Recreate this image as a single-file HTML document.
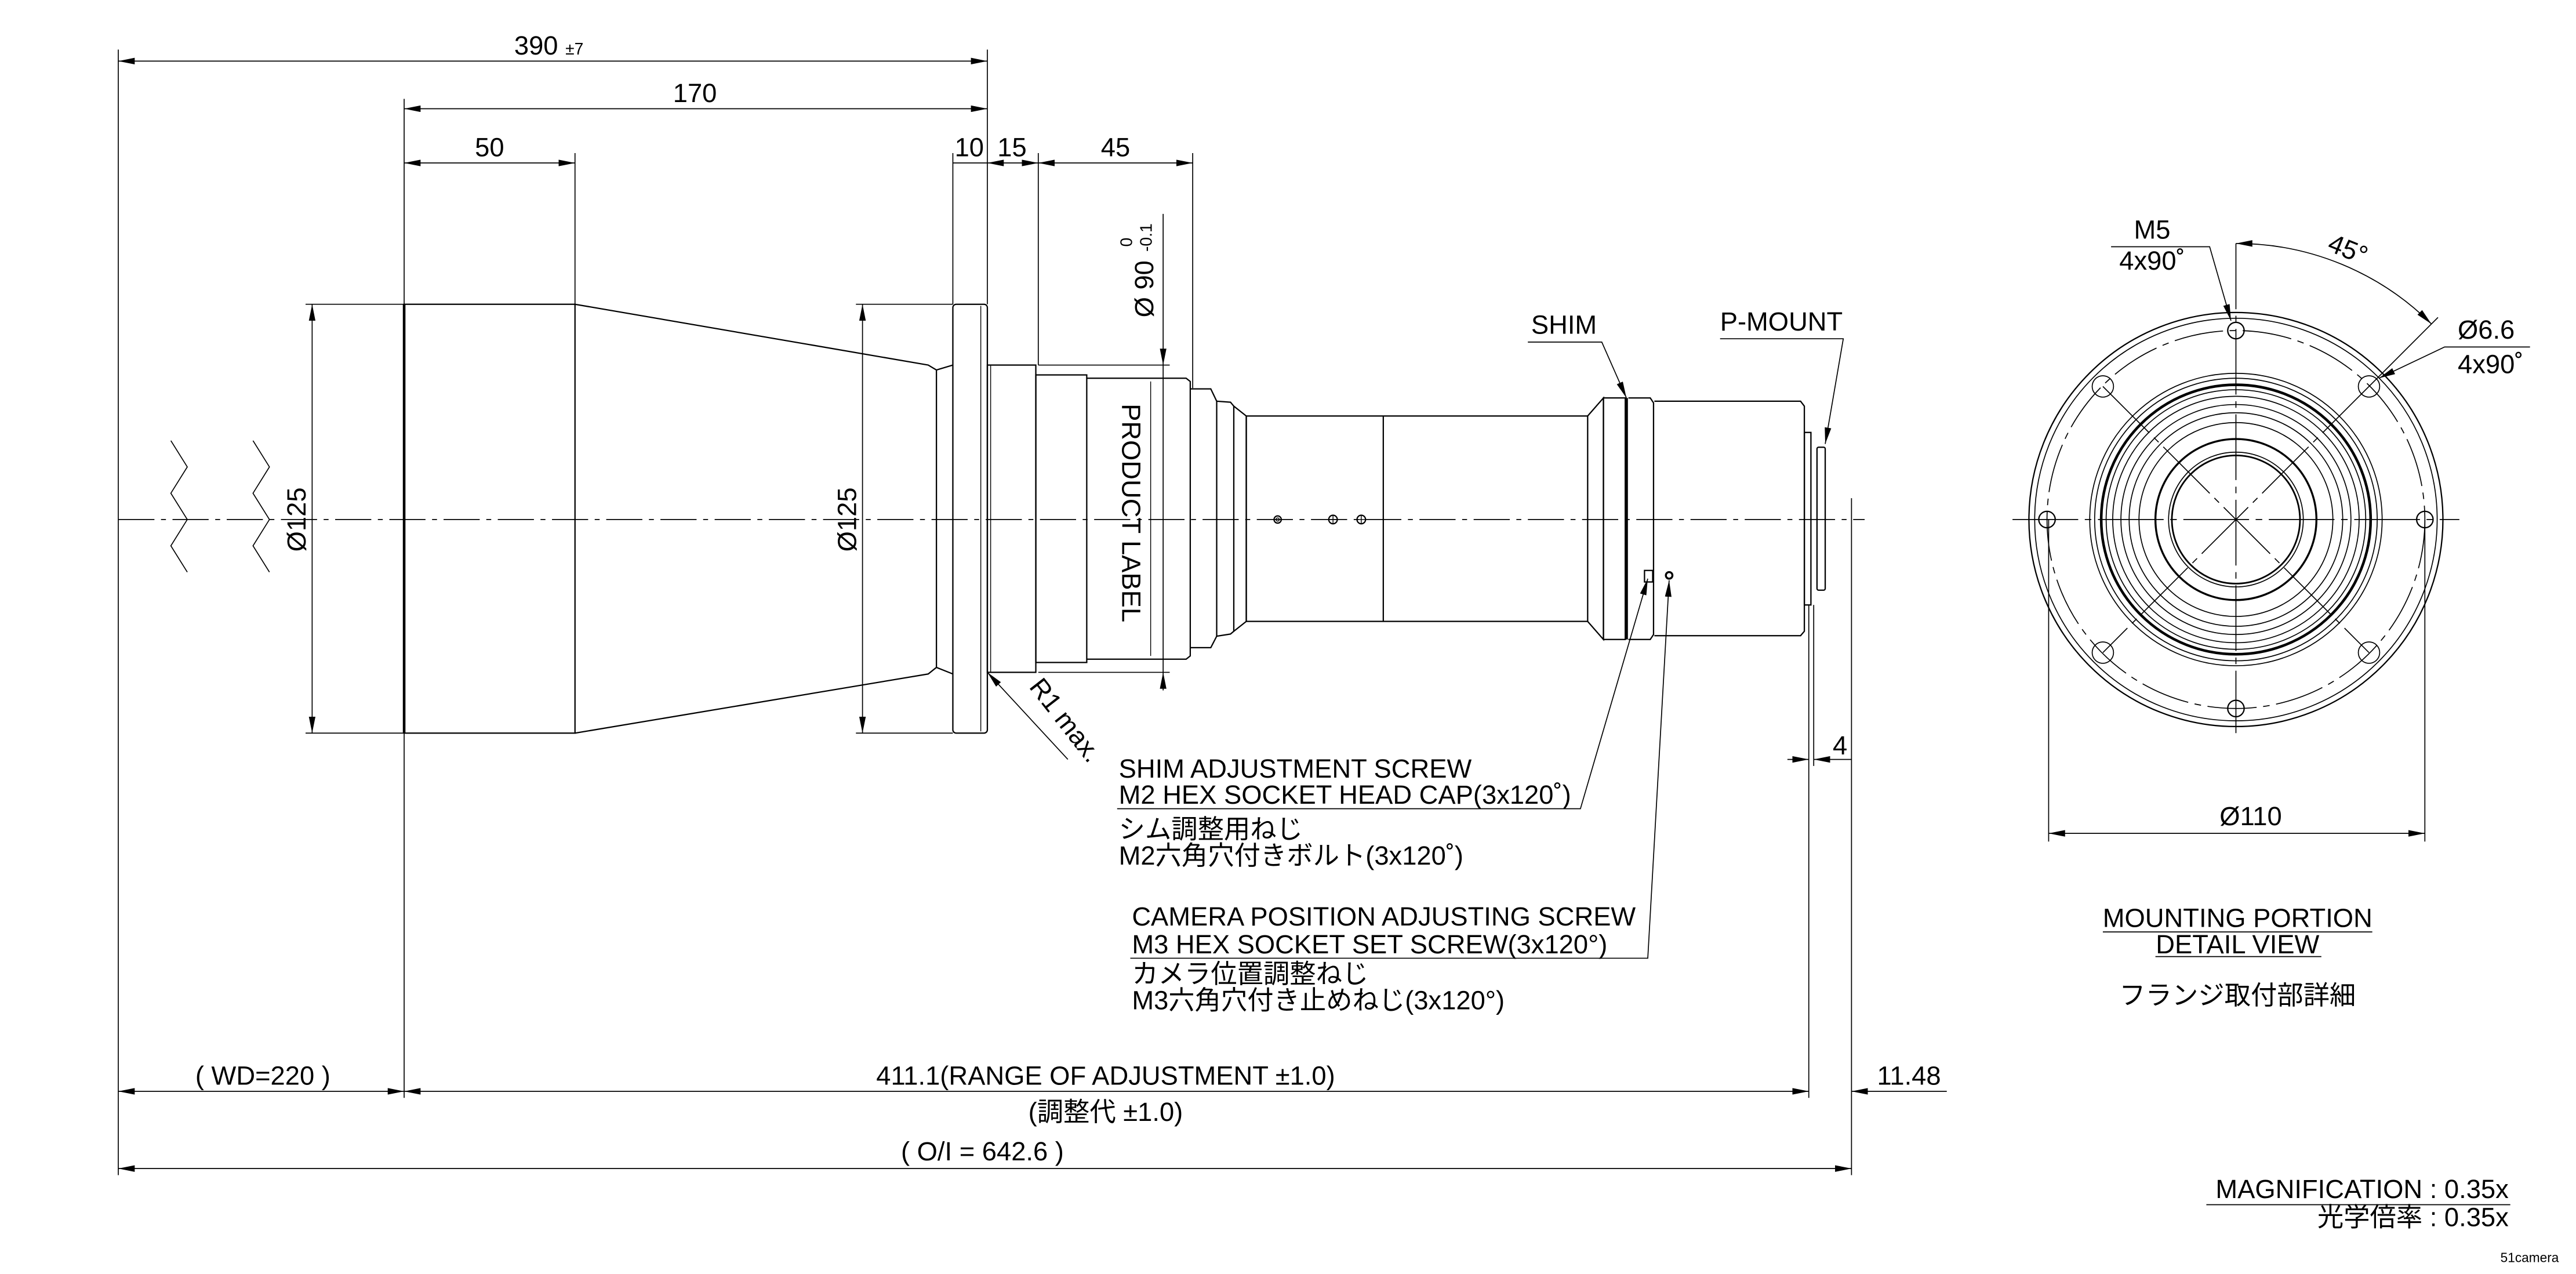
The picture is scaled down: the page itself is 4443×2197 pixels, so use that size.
<!DOCTYPE html>
<html><head><meta charset="utf-8"><style>
html,body{margin:0;padding:0;background:#fff}
svg{display:block}
text{font-family:"Liberation Sans","Noto Sans CJK JP",sans-serif;fill:#000}
</style></head><body>
<svg width="4443" height="2197" viewBox="0 0 1568 775" xmlns="http://www.w3.org/2000/svg">
<defs>
<marker id="a" viewBox="0 0 10 4" refX="10" refY="2" markerWidth="10" markerHeight="4" markerUnits="userSpaceOnUse" orient="auto-start-reverse"><path d="M0,0L10,2L0,4z" fill="#000"/></marker>
</defs>
<g fill="none" stroke="#000" stroke-width="0.8">
<line x1="72" y1="316" x2="1135" y2="316" stroke-dasharray="22,4,3,4" stroke-width="0.6"/>
<path d="M104,268 L114,284 L104,300 L114,316 L104,332 L114,348" stroke-width="0.6"/>
<path d="M154,268 L164,284 L154,300 L164,316 L154,332 L164,348" stroke-width="0.6"/>
<line x1="72" y1="30" x2="72" y2="715" stroke-width="0.6"/>
<line x1="601" y1="30" x2="601" y2="185" stroke-width="0.6"/>
<line x1="246" y1="60" x2="246" y2="185" stroke-width="0.6"/>
<line x1="246" y1="446" x2="246" y2="668" stroke-width="0.6"/>
<line x1="350" y1="93" x2="350" y2="185" stroke-width="0.6"/>
<line x1="580" y1="93" x2="580" y2="185" stroke-width="0.6"/>
<line x1="632" y1="93" x2="632" y2="222" stroke-width="0.6"/>
<line x1="726" y1="93" x2="726" y2="236" stroke-width="0.6"/>
<line x1="186" y1="185" x2="246" y2="185" stroke-width="0.6"/>
<line x1="186" y1="446" x2="246" y2="446" stroke-width="0.6"/>
<line x1="521" y1="185" x2="580" y2="185" stroke-width="0.6"/>
<line x1="521" y1="446" x2="580" y2="446" stroke-width="0.6"/>
<line x1="632" y1="222" x2="712" y2="222" stroke-width="0.6"/>
<line x1="632" y1="409" x2="712" y2="409" stroke-width="0.6"/>
<line x1="1101" y1="368" x2="1101" y2="668" stroke-width="0.6"/>
<line x1="1104" y1="368" x2="1104" y2="466" stroke-width="0.6"/>
<line x1="1127" y1="303" x2="1127" y2="715" stroke-width="0.6"/>
<line x1="72" y1="37" x2="601" y2="37" marker-start="url(#a)" marker-end="url(#a)" stroke-width="0.6"/>
<line x1="246" y1="66" x2="601" y2="66" marker-start="url(#a)" marker-end="url(#a)" stroke-width="0.6"/>
<line x1="246" y1="99" x2="350" y2="99" marker-start="url(#a)" marker-end="url(#a)" stroke-width="0.6"/>
<line x1="580" y1="99" x2="601" y2="99" stroke-width="0.6"/>
<line x1="601" y1="99" x2="632" y2="99" marker-start="url(#a)" marker-end="url(#a)" stroke-width="0.6"/>
<line x1="632" y1="99" x2="726" y2="99" marker-start="url(#a)" marker-end="url(#a)" stroke-width="0.6"/>
<line x1="190" y1="185" x2="190" y2="446" marker-start="url(#a)" marker-end="url(#a)" stroke-width="0.6"/>
<line x1="525" y1="185" x2="525" y2="446" marker-start="url(#a)" marker-end="url(#a)" stroke-width="0.6"/>
<line x1="708" y1="130" x2="708" y2="222" marker-end="url(#a)" stroke-width="0.6"/>
<line x1="708" y1="420" x2="708" y2="409" marker-end="url(#a)" stroke-width="0.6"/>
<line x1="708" y1="222" x2="708" y2="409" stroke-width="0.6"/>
<line x1="72" y1="664" x2="246" y2="664" marker-start="url(#a)" marker-end="url(#a)" stroke-width="0.6"/>
<line x1="246" y1="664" x2="1101" y2="664" marker-start="url(#a)" marker-end="url(#a)" stroke-width="0.6"/>
<line x1="1185" y1="664" x2="1127" y2="664" marker-end="url(#a)" stroke-width="0.6"/>
<line x1="72" y1="711" x2="1127" y2="711" marker-start="url(#a)" marker-end="url(#a)" stroke-width="0.6"/>
<line x1="1088" y1="462" x2="1101" y2="462" marker-end="url(#a)" stroke-width="0.6"/>
<line x1="1127" y1="462" x2="1104" y2="462" marker-end="url(#a)" stroke-width="0.6"/>
<rect x="246" y="185" width="104" height="261"/>
<line x1="246" y1="185" x2="246" y2="446" stroke-width="1.6"/>
<path d="M350,185 L565,222 L570,225 L570,406 L565,410 L350,446"/>
<path d="M570,225 L580,222 M570,406 L580,410"/>
<rect x="580" y="185" width="21" height="261" rx="2"/>
<line x1="597" y1="186" x2="597" y2="445" stroke-width="0.5"/>
<rect x="601" y="222" width="29.5" height="187"/>
<line x1="603" y1="222" x2="603" y2="409" stroke-width="0.5"/>
<rect x="630.5" y="228" width="31" height="175"/>
<path d="M661.5,230 L722,230 L724.5,232 L724.5,399 L722,401 L661.5,401"/>
<line x1="700.4" y1="232" x2="700.4" y2="399" stroke-width="0.5"/>
<path d="M724.5,236.5 L737,236.5 L740.6,244 L740.6,387 L737,394 L724.5,394"/>
<path d="M740.6,244 L749,244.6 L751,247 L751,384 L749,385.7 L740.6,387"/>
<path d="M751,247 L758.6,253 L758.6,378 L751,384"/>
<rect x="758.6" y="253" width="207.8" height="125"/>
<line x1="842" y1="253" x2="842" y2="378"/>
<path d="M966.4,253 L976,242 L976,389 L966.4,378"/>
<rect x="976" y="242" width="13.3" height="147"/>
<line x1="990" y1="242" x2="990" y2="389" stroke-width="1.8"/>
<path d="M991.2,242 L1004.5,242 L1006.5,245 L1006.5,386 L1004.5,389 L991.2,389"/>
<path d="M1007,244 L1096,244 L1098.3,247 L1098.3,384 L1096,386.7 L1007,386.7"/>
<rect x="1098.3" y="263" width="4" height="105"/>
<rect x="1106" y="272" width="5" height="87" rx="1"/>
<circle cx="777.7" cy="316" r="2.2"/><circle cx="777.7" cy="316" r="1" stroke-width="0.5"/>
<circle cx="811.4" cy="316" r="2.6"/><line x1="808.8" y1="316" x2="814" y2="316" stroke-width="0.5"/><line x1="811.4" y1="313.4" x2="811.4" y2="318.6" stroke-width="0.5"/>
<circle cx="828.6" cy="316" r="2.6"/><line x1="826" y1="316" x2="831.2" y2="316" stroke-width="0.5"/><line x1="828.6" y1="313.4" x2="828.6" y2="318.6" stroke-width="0.5"/>
<rect x="1001" y="347" width="5" height="7"/>
<circle cx="1016" cy="350" r="2" stroke-width="1.2"/>
<path d="M601,409 L650,462" marker-start="url(#a)" stroke-width="0.6"/>
<path d="M930,208 L975,208 L990,242" marker-end="url(#a)" stroke-width="0.6"/>
<path d="M1047,206 L1122,206 L1111,270" marker-end="url(#a)" stroke-width="0.6"/>
<path d="M680,492 L962,492 L1003,352" marker-end="url(#a)" stroke-width="0.6"/>
<path d="M688,583 L1003,583 L1016,353" marker-end="url(#a)" stroke-width="0.6"/>
<circle cx="1361" cy="316" r="126"/>
<circle cx="1361" cy="316" r="122.5" stroke-width="0.6"/>
<circle cx="1361" cy="316" r="115" stroke-dasharray="30,4,4,4" stroke-width="0.6"/>
<circle cx="1361" cy="316" r="89" stroke-width="0.6"/>
<circle cx="1361" cy="316" r="86" stroke-width="0.6"/>
<circle cx="1361" cy="316" r="82" stroke-width="1.6"/>
<circle cx="1361" cy="316" r="79" stroke-width="0.6"/>
<circle cx="1361" cy="316" r="75" stroke-width="0.6"/>
<circle cx="1361" cy="316" r="70" stroke-width="0.6"/>
<circle cx="1361" cy="316" r="65" stroke-width="0.6"/>
<circle cx="1361" cy="316" r="59" stroke-width="0.6"/>
<circle cx="1361" cy="316" r="49" stroke-width="1.2"/>
<circle cx="1361" cy="316" r="41" stroke-width="0.6"/>
<circle cx="1361" cy="316" r="39" stroke-width="1"/>
<line x1="1361" y1="148" x2="1361" y2="446" stroke-dasharray="40,4,4,4" stroke-width="0.6"/>
<line x1="1225" y1="316" x2="1497" y2="316" stroke-dasharray="40,4,4,4" stroke-width="0.6"/>
<line x1="1280" y1="235" x2="1442" y2="397" stroke-dasharray="40,4,4,4" stroke-width="0.6"/>
<line x1="1442" y1="235" x2="1280" y2="397" stroke-dasharray="40,4,4,4" stroke-width="0.6"/>
<circle cx="1361" cy="201" r="5"/><circle cx="1361" cy="431" r="5"/>
<circle cx="1246" cy="316" r="5"/><circle cx="1476" cy="316" r="5"/>
<circle cx="1280" cy="235" r="6.5" stroke-width="0.6"/><circle cx="1442" cy="235" r="6.5" stroke-width="0.6"/>
<circle cx="1280" cy="397" r="6.5" stroke-width="0.6"/><circle cx="1442" cy="397" r="6.5" stroke-width="0.6"/>
<line x1="1247" y1="316" x2="1247" y2="512" stroke-width="0.6"/>
<line x1="1476" y1="316" x2="1476" y2="512" stroke-width="0.6"/>
<line x1="1247" y1="507" x2="1476" y2="507" marker-start="url(#a)" marker-end="url(#a)" stroke-width="0.6"/>
<path d="M1285,150 L1345,150 L1358,195" marker-end="url(#a)" stroke-width="0.6"/>
<path d="M1361,148 A168,168 0 0 1 1480,197" marker-start="url(#a)" marker-end="url(#a)" stroke-width="0.6"/>
<line x1="1442" y1="235" x2="1484" y2="193" stroke-width="0.6"/>
<path d="M1540,211 L1488,211 L1448,230" marker-end="url(#a)" stroke-width="0.6"/>
<line x1="1280" y1="567" x2="1444" y2="567" stroke-width="0.6"/>
<line x1="1312" y1="582" x2="1413" y2="582" stroke-width="0.6"/>
<line x1="1343" y1="733" x2="1528" y2="733" stroke-width="0.6"/>
</g>
<g font-size="16">
<text x="313" y="33">390 <tspan font-size="10">±7</tspan></text>
<text x="423" y="62" text-anchor="middle">170</text>
<text x="298" y="95" text-anchor="middle">50</text>
<text x="590" y="95" text-anchor="middle">10</text>
<text x="616" y="95" text-anchor="middle">15</text>
<text x="679" y="95" text-anchor="middle">45</text>
<text transform="translate(186,316) rotate(-90)" text-anchor="middle">Ø125</text>
<text transform="translate(521,316) rotate(-90)" text-anchor="middle">Ø125</text>
<text transform="translate(702,193) rotate(-90)">Ø 90</text>
<text transform="translate(689,150) rotate(-90)" font-size="10">0</text>
<text transform="translate(701,153) rotate(-90)" font-size="10">-0.1</text>
<text transform="translate(683,312) rotate(90)" text-anchor="middle" font-size="16">PRODUCT LABEL</text>
<text transform="translate(626,418) rotate(52)">R1 max.</text>
<text x="932" y="203">SHIM</text>
<text x="1047" y="201">P-MOUNT</text>
<text x="1120" y="459" text-anchor="middle">4</text>
<text x="681" y="473">SHIM ADJUSTMENT SCREW</text>
<text x="681" y="489">M2 HEX SOCKET HEAD CAP(3x120˚)</text>
<text x="681" y="510">シム調整用ねじ</text>
<text x="681" y="526">M2六角穴付きボルト(3x120˚)</text>
<text x="689" y="563">CAMERA POSITION ADJUSTING SCREW</text>
<text x="689" y="580">M3 HEX SOCKET SET SCREW(3x120°)</text>
<text x="689" y="598">カメラ位置調整ねじ</text>
<text x="689" y="614">M3六角穴付き止めねじ(3x120°)</text>
<text x="160" y="660" text-anchor="middle">( WD=220 )</text>
<text x="673" y="660" text-anchor="middle">411.1(RANGE OF ADJUSTMENT ±1.0)</text>
<text x="1162" y="660" text-anchor="middle">11.48</text>
<text x="673" y="682" text-anchor="middle">(調整代 ±1.0)</text>
<text x="598" y="706" text-anchor="middle">( O/I = 642.6 )</text>
<text x="1310" y="145" text-anchor="middle">M5</text>
<text x="1310" y="164" text-anchor="middle">4x90˚</text>
<text transform="translate(1416,152) rotate(22)">45°</text>
<text x="1496" y="206">Ø6.6</text>
<text x="1496" y="227">4x90˚</text>
<text x="1370" y="502" text-anchor="middle">Ø110</text>
<text x="1362" y="564" text-anchor="middle">MOUNTING PORTION</text>
<text x="1362" y="580" text-anchor="middle">DETAIL VIEW</text>
<text x="1362" y="611" text-anchor="middle">フランジ取付部詳細</text>
<text x="1527" y="729" text-anchor="end">MAGNIFICATION : 0.35x</text>
<text x="1527" y="746" text-anchor="end">光学倍率 : 0.35x</text>
<text x="1522" y="768" font-size="8" fill="#bbb">51camera</text>
</g>
</svg>
</body></html>
